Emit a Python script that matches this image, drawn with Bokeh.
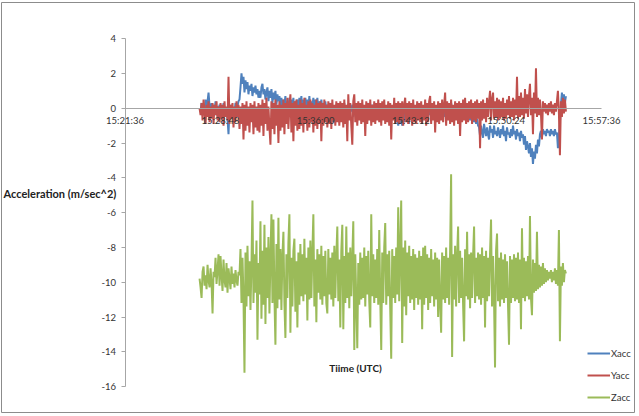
from bokeh.plotting import figure
from bokeh.models import Range1d, FixedTicker, Legend, LegendItem, Label
from bokeh.embed import file_html
from bokeh.resources import INLINE
import numpy as np

# Time axis labels (UTC) and acceleration ticks
tick_labels = ["15:21:36", "15:28:48", "15:36:00", "15:43:12", "15:50:24", "15:57:36"]
y_ticks = [-16, -14, -12, -10, -8, -6, -4, -2, 0, 2, 4]
y_tick_labels = ["-16", "-14", "-12", "-10", "-8", "-6", "-4", "-2", "0", "2", "4"]

# Sampling grid of the accelerometer log
first_sample = "15:27:14"
sample_step_s = 4.525

# Acceleration samples (m/sec^2)
x_acc = [
    0.0, -0.2, 0.3, -0.4, 0.2, -0.3, 0.5, -0.1, 0.4, 0.9, 0.1, -0.3, 0.3, -0.5, 0.2, -0.2, 0.4, -0.4, 0.1, -0.3,
    0.2, -0.4, 0.1, -0.3, 0.3, -0.5, 0.0, -0.2, -0.6, -1.5, 0.1, -0.3, 0.2, -0.4, 0.0, -0.2, 0.3, -0.3, 0.1, 0.4,
    0.5, 1.2, 2.0, 1.4, 1.8, 0.9, 1.6, 1.1, 1.5, 0.8, 1.3, 1.0, 1.4, 0.7, 1.2, 0.9, 1.3, 0.8, 1.1, 0.6,
    1.0, 0.6, 1.2, 1.4, 0.8, 1.1, 0.5, 0.9, 1.2, 0.4, 1.0, 0.6, 1.1, 0.3, 0.9, 0.5, 1.0, 0.2, 0.8, 0.4,
    0.7, 0.1, 0.6, -0.1, 0.5, 0.2, 0.7, -0.2, 0.4, 0.1, 0.6, -0.1, 0.5, 0.0, 0.6, -0.3, 0.4, 0.1, 0.5, -0.2,
    0.6, 0.0, 0.7, -0.2, 0.5, 0.1, 0.6, -0.3, 0.5, 0.0, 0.7, -0.1, 0.4, 0.1, 0.6, -0.2, 0.5, 0.0, 0.6, -0.1,
    0.4, -0.2, 0.5, 0.0, 0.3, -0.3, 0.4, -0.1, 0.2, -0.4, 0.3, -0.2, 0.1, -0.6, -0.8, 0.0, -0.3, 0.2, -0.4, 0.1,
    -0.3, 0.2, -0.4, 0.1, -0.2, 0.3, -0.5, 0.0, -0.3, 0.2, -0.4, 0.1, -0.2, 0.2, -0.5, 0.0, -0.3, 0.1, -0.4, 0.2,
    -0.2, 0.1, -0.4, 0.2, -0.3, 0.0, -0.5, 0.1, -0.2, 0.3, -0.4, 0.0, -0.3, 0.2, -0.2, 0.1, -0.5, 0.0, -0.3, 0.2,
    -0.4, 0.1, -0.2, 0.2, -0.5, 0.0, -0.3, 0.1, -0.4, 0.2, -0.3, 0.0, -0.5, 0.1, -0.4, -0.6, -0.3, -0.8, -0.5, -1.0,
    -0.6, -0.9, -0.4, -1.0, -0.5, -0.8, -0.2, -0.5, 0.0, -0.3, 0.1, -0.4, 0.2, -0.3, 0.0, -0.5, 0.1, -0.2, -0.4, 0.1,
    -0.3, 0.2, -0.4, 0.0, -0.2, 0.1, -0.5, 0.2, -0.3, 0.0, -0.4, 0.1, -0.2, 0.2, -0.5, 0.0, -0.3, 0.1, -0.4, 0.2,
    -0.3, 0.0, -0.4, 0.2, -0.2, 0.1, -0.5, 0.0, -0.3, 0.2, -0.4, 0.1, 0.3, -0.2, 0.0, -0.4, 0.1, -0.3, 0.2, -0.4,
    0.0, -0.3, 0.1, -0.5, -0.2, -0.4, 0.0, -0.6, -0.3, -0.5, -0.1, -0.7, -0.4, -0.6, -0.3, -0.8, -0.5, -0.9, -0.6, -1.0,
    -1.1, -1.6, -1.0, -1.4, -1.7, -0.9, -1.3, -1.6, -1.1, -1.5, -1.8, -1.0, -1.4, -1.2, -1.7, -1.0, -1.5, -1.3, -1.6, -1.1,
    -1.4, -1.7, -1.2, -1.5, -1.0, -1.6, -1.3, -1.9, -1.1, -1.5, -1.4, -1.7, -1.2, -1.6, -1.0, -1.5, -1.3, -1.8, -1.2, -1.6,
    -1.4, -1.9, -1.3, -1.7, -1.5, -2.1, -1.6, -2.4, -1.9, -2.2, -2.6, -2.0, -2.8, -2.3, -3.2, -2.5, -2.9, -2.1, -2.6, -1.8,
    -2.2, -1.5, -1.3, -1.7, -1.2, -1.5, -1.3, -1.6, -1.2, -1.4, -1.3, -1.6, -1.2, -1.5, -1.3, -1.6, -1.2, -1.5, -1.4, -2.3,
    -1.6, -0.8, 0.2, 0.9, 0.4, 0.8, 0.3, 0.7,
]

y_acc = [
    0.0, -0.4, 0.3, -0.7, 0.5, -0.2, -0.9, 0.2, -0.5, 0.4, -0.8, 0.1, -0.6, 0.3, -0.9, 0.2, -0.4, 0.4, -0.7, 0.1,
    -0.8, 0.3, -0.6, 0.2, -1.0, 0.4, -0.5, 0.1, -0.7, 1.8, -0.9, 0.2, -0.6, 0.3, -1.1, 0.1, -0.8, 0.4, -0.5, 0.2,
    -1.2, 0.1, -0.9, 0.3, -1.8, 0.2, -1.3, 0.4, -1.0, 0.1, -1.4, 0.3, -0.8, 0.2, -1.5, 0.4, -1.1, 0.1, -1.3, 0.3,
    -1.4, 0.2, -1.0, 0.5, -1.6, 0.3, -0.9, 0.6, -1.3, 0.1, -1.1, -2.1, 0.4, -1.2, 0.3, -1.5, 0.5, -1.0, 0.2, -2.0,
    0.4, -1.3, 0.2, -1.1, 0.5, -1.5, 0.3, -0.9, 0.6, -1.2, 0.1, 0.8, -1.4, 0.3, -1.9, 0.4, -1.0, 0.5, -1.3, 0.2,
    -1.2, 0.5, -1.0, 0.3, -1.4, 0.6, -0.9, 0.2, -1.3, 0.4, -1.1, 0.5, -0.8, 0.3, -1.4, 0.2, -1.0, 0.5, -1.2, 0.3,
    -0.9, 0.4, -1.9, 0.3, -1.0, 0.5, -0.8, 0.2, -1.1, 0.4, -0.9, 0.3, -1.2, 0.5, -0.7, 0.2, -1.0, 0.4, -0.8, 0.3,
    -1.0, 0.4, -0.8, 0.3, -1.1, 0.5, -0.9, 0.2, -1.9, 0.8, -0.7, 0.3, -1.0, -2.1, 0.4, 0.8, -0.8, 0.3, -1.0, 0.4,
    -0.7, 0.3, -0.9, 0.5, -0.8, 0.2, -1.6, 0.4, -0.9, 0.3, -0.7, 0.5, -1.0, 0.2, -0.8, 0.4, -0.9, 0.3, -0.7, 0.5,
    -0.8, 0.3, -1.0, 0.4, -0.7, 0.5, -0.9, 0.2, -0.8, 0.4, -1.0, 0.3, -1.8, 0.2, -0.7, 0.6, -0.9, 0.3, -0.8, 0.4,
    -0.9, 0.3, -0.7, 0.4, -1.0, 0.2, 0.6, -0.8, 0.3, -0.9, 0.4, -0.7, 0.3, -1.0, 0.5, -0.8, 0.2, -0.9, 0.4, -0.7,
    0.3, -0.8, 0.4, -0.9, 0.2, -0.7, 0.5, -1.0, 0.3, -0.8, 0.4, 0.7, -0.9, 0.3, -0.7, 0.4, -1.4, 0.2, -0.8, 0.4,
    -0.9, 0.3, -0.7, 0.5, -0.8, 0.2, 0.9, -1.0, 0.4, -0.7, 0.3, -0.9, 0.5, -0.8, 0.2, -1.0, 0.4, -0.7, 0.3, -0.9,
    0.4, -1.6, 0.3, -0.8, 0.5, -0.7, 0.6, -0.9, 0.3, -0.8, 0.4, -0.6, 0.5, -0.9, 0.3, -0.7, 0.4, -0.8, 0.5, -0.6,
    0.3, -2.3, 0.4, -0.7, 0.5, -0.6, 0.3, -0.8, 0.6, -0.5, 0.4, 1.0, -0.7, 0.5, 0.9, -0.6, 0.4, -0.5, 0.6, -0.7,
    0.5, -0.6, 0.4, -0.5, 0.6, -0.7, 0.3, -0.6, 0.5, -0.4, 0.7, -0.6, 0.4, -0.5, 0.6, -0.7, 0.5, -0.4, 1.8, -0.6,
    0.7, -0.5, 0.9, -0.4, 0.6, -0.6, 1.1, -0.3, 0.8, -0.5, 0.7, 1.4, -0.4, 0.6, -1.5, 0.9, -0.3, 2.3, -0.5, 0.6,
    -0.4, 0.5, -0.3, -1.8, 0.4, -0.2, 0.3, -0.3, 0.2, -0.4, 0.3, -0.2, 0.4, -0.3, 0.2, -0.4, 0.3, -0.2, 0.4, 1.0,
    -0.3, -2.7, 0.4, -0.5, 0.6, -0.3, 0.5, -0.2,
]

z_acc = [
    -9.8, -10.3, -10.9, -9.4, -9.1, -10.2, -9.6, -10.4, -9.0, -9.9, -10.3, -9.2, -10.0, -11.8, -9.4, -9.7, -8.6, -10.1, -9.3, -8.4,
    -10.2, -8.5, -9.6, -10.5, -8.7, -9.9, -10.3, -8.9, -10.6, -9.2, -9.8, -10.4, -9.1, -10.1, -9.5, -10.3, -9.3, -9.9, -10.2, -9.4,
    -9.6, -8.1, -11.2, -8.6, -10.9, -15.2, -8.3, -11.4, -7.9, -10.8, -8.8, -11.6, -9.0, -5.3, -11.2, -8.4, -10.6, -7.6, -13.3, -8.9,
    -10.7, -6.5, -12.1, -8.2, -11.3, -6.7, -12.4, -8.0, -10.9, -7.4, -11.8, -8.6, -6.1, -11.2, -6.4, -10.8, -13.6, -7.8, -11.5, -6.3,
    -11.0, -8.1, -11.6, -8.5, -7.1, -11.2, -13.2, -8.4, -10.9, -7.7, -6.1, -12.9, -8.6, -11.4, -8.2, -7.5, -11.7, -8.8, -12.6, -8.3,
    -11.3, -7.8, -10.8, -8.4, -11.1, -7.5, -10.7, -8.6, -12.2, -8.0, -11.0, -7.6, -10.9, -8.3, -6.1, -11.4, -8.7, -12.3, -8.1, -10.6,
    -8.4, -11.0, -7.9, -11.3, -8.5, -10.8, -8.2, -11.2, -11.8, -8.1, -10.7, -8.6, -11.0, -8.3, -11.4, -7.9, -10.9, -8.5, -6.8, -11.1,
    -8.7, -12.6, -8.2, -6.7, -12.7, -8.5, -11.2, -6.8, -10.9, -8.3, -11.5, -8.0, -10.8, -8.6, -6.5, -13.9, -8.4, -11.1, -13.8, -8.9,
    -11.3, -8.3, -11.0, -8.6, -10.9, -8.0, -11.4, -8.5, -10.7, -8.2, -11.1, -12.6, -6.1, -10.8, -8.4, -11.2, -8.7, -10.9, -8.1, -11.3,
    -7.0, -10.9, -13.9, -8.3, -11.2, -8.0, -6.6, -11.3, -8.4, -10.8, -8.2, -11.5, -14.4, -8.1, -10.9, -8.5, -11.2, -8.0, -10.7, -5.7,
    -11.1, -8.2, -5.3, -13.5, -8.0, -11.4, -7.6, -11.9, -8.3, -10.8, -7.9, -11.2, -8.5, -11.0, -8.1, -11.6, -8.4, -10.9, -8.6, -11.3,
    -8.2, -11.0, -8.5, -12.7, -8.0, -11.3, -7.9, -10.9, -8.4, -11.6, -8.6, -11.2, -8.1, -10.8, -8.7, -11.4, -8.3, -11.0, -8.6, -12.0,
    -8.7, -11.2, -12.9, -8.3, -11.0, -8.5, -11.2, -8.0, -10.9, -8.6, -11.3, -8.2, -3.8, -14.3, -8.4, -11.0, -7.9, -11.4, -8.5, -6.8,
    -11.2, -8.2, -10.9, -8.6, -11.3, -13.4, -8.1, -10.8, -7.1, -11.0, -8.4, -11.5, -8.3, -10.9, -8.5, -6.8, -11.2, -8.6, -10.8, -8.3,
    -11.0, -8.4, -11.3, -8.0, -10.9, -8.5, -12.6, -8.2, -11.1, -8.6, -10.8, -8.3, -6.4, -11.4, -8.5, -11.0, -14.9, -8.2, -7.2, -11.1,
    -8.6, -11.4, -8.3, -11.0, -8.7, -11.2, -8.4, -10.9, -8.8, -11.3, -13.6, -8.5, -11.2, -8.7, -10.9, -8.4, -11.1, -8.6, -11.0, -8.3,
    -11.2, -8.7, -12.7, -6.9, -10.9, -8.6, -11.1, -8.8, -10.8, -8.5, -11.0, -6.2, -10.9, -11.9, -8.7, -10.6, -8.9, -10.5, -7.1, -10.4,
    -9.0, -10.3, -9.1, -10.2, -8.9, -10.1, -9.2, -10.0, -9.3, -9.9, -9.4, -9.8, -9.3, -10.0, -9.4, -9.9, -9.2, -10.1, -9.3, -10.2,
    -7.0, -13.4, -9.1, -10.2, -8.9, -10.0, -9.3, -9.5,
]

series_names = ["Xacc", "Yacc", "Zacc"]
series_colors = ["#4F81BD", "#C0504D", "#9BBB59"]


def to_seconds(hms):
    h, m, s = (int(part) for part in hms.split(":"))
    return h * 3600 + m * 60 + s


tick_pos = [to_seconds(t) for t in tick_labels]
times = to_seconds(first_sample) + sample_step_s * np.arange(len(z_acc))

# Plot geometry (canvas pixels)
W, H = 639, 416
frame_l, frame_r, frame_t, frame_b = 1, 634, 2, 412
axis_x0_px, axis_x1_px = 124.5, 601.0
zero_px, px_per_unit = 107.7, 17.4

sec_per_px = (tick_pos[-1] - tick_pos[0]) / (axis_x1_px - axis_x0_px)
x_start = tick_pos[0] - (axis_x0_px - frame_l) * sec_per_px
x_end = tick_pos[0] + (frame_r - axis_x0_px) * sec_per_px
y_end = (zero_px - frame_t) / px_per_unit
y_start = (zero_px - frame_b) / px_per_unit

p = figure(
    width=W, height=H,
    x_range=Range1d(x_start, x_end), y_range=Range1d(y_start, y_end),
    output_backend="svg", toolbar_location=None,
    min_border_left=frame_l, min_border_right=W - frame_r,
    min_border_top=frame_t, min_border_bottom=H - frame_b,
)
p.background_fill_color = "white"
p.border_fill_color = "white"
p.outline_line_color = "#8c8c8c"
p.outline_line_width = 1
p.xgrid.visible = False
p.ygrid.visible = False

font = "Lato"
axis_color = "#a6a6a6"
text_color = "#333333"

# Time axis drawn across the zero line
xa = p.xaxis[0]
xa.fixed_location = 0
xa.bounds = (tick_pos[0], tick_pos[-1])
xa.ticker = FixedTicker(ticks=tick_pos)
xa.major_label_overrides = {pos: lab for pos, lab in zip(tick_pos, tick_labels)}
xa.axis_line_color = axis_color
xa.major_tick_out = 0
xa.major_tick_in = 0
xa.minor_tick_out = 0
xa.minor_tick_in = 0
xa.major_label_standoff = 7
xa.major_label_text_font = font
xa.major_label_text_font_size = "9.5px"
xa.major_label_text_color = text_color

ya = p.yaxis[0]
ya.fixed_location = tick_pos[0]
ya.bounds = (y_ticks[0], y_ticks[-1])
ya.ticker = FixedTicker(ticks=y_ticks)
ya.major_label_overrides = {t: lab for t, lab in zip(y_ticks, y_tick_labels)}
ya.axis_line_color = axis_color
ya.major_tick_line_color = axis_color
ya.major_tick_out = 4
ya.major_tick_in = 0
ya.minor_tick_out = 0
ya.minor_tick_in = 0
ya.major_label_standoff = 5
ya.major_label_text_font = font
ya.major_label_text_font_size = "9.5px"
ya.major_label_text_color = text_color

renderers = []
for vals, color in zip([x_acc, y_acc, z_acc], series_colors):
    r = p.line(times, vals, line_color=color, line_width=2)
    renderers.append(r)

legend = Legend(
    items=[LegendItem(label=n, renderers=[r]) for n, r in zip(series_names, renderers)],
    location=(586, 8),
    orientation="vertical",
    glyph_width=23, glyph_height=14, label_height=14,
    label_standoff=1, spacing=8, padding=0, margin=0,
    border_line_color=None, background_fill_alpha=0,
    label_text_font=font, label_text_font_size="9.5px", label_text_color=text_color,
)
p.add_layout(legend, "center")

y_title = Label(
    x=tick_pos[0] + (3 - axis_x0_px) * sec_per_px, y=(zero_px - 193) / px_per_unit,
    text="Acceleration (m/sec^2)", text_align="left", text_baseline="middle",
    text_font=font, text_font_size="11px", text_font_style="bold", text_color="#222222",
)
x_title = Label(
    x=tick_pos[0] + (355 - axis_x0_px) * sec_per_px, y=(zero_px - 367) / px_per_unit,
    text="Tiime (UTC)", text_align="center", text_baseline="middle",
    text_font=font, text_font_size="10px", text_font_style="bold", text_color="#222222",
)
p.add_layout(y_title)
p.add_layout(x_title)

open("out.html", "w").write(file_html(p, INLINE))
